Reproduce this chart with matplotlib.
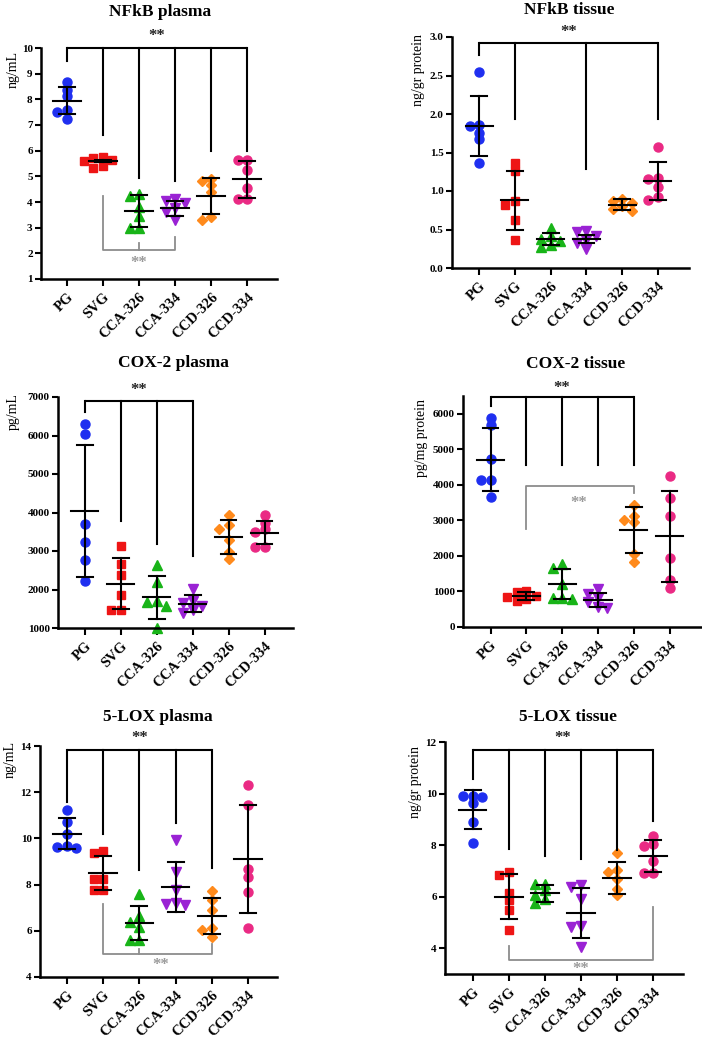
import numpy as np
import matplotlib
matplotlib.use('Agg')
import matplotlib.pyplot as plt

plt.rcParams['font.family'] = ['Liberation Serif', 'DejaVu Serif']

groups = ['PG', 'SVG', 'CCA-326', 'CCA-334', 'CCD-326', 'CCD-334']

# ---------------- data ----------------
nfkb_plasma = [[8.66, 8.38, 8.12, 7.6, 7.5, 7.25],
               [5.75, 5.72, 5.62, 5.58, 5.4, 5.33],
               [4.3, 4.25, 3.8, 3.45, 3.0, 3.0],
               [4.1, 4.05, 3.95, 3.75, 3.6, 3.3],
               [4.9, 4.8, 4.65, 4.4, 3.4, 3.3],
               [5.65, 5.65, 5.25, 4.55, 4.1, 4.1]]
nfkb_plasma_mean = [7.95, 5.6, 3.65, 3.75, 4.23, 4.88]
nfkb_plasma_sd = [0.54, 0.05, 0.63, 0.3, 0.7, 0.72]

nfkb_tissue = [[2.55, 1.86, 1.84, 1.75, 1.67, 1.37],
               [1.36, 1.26, 0.87, 0.82, 0.62, 0.36],
               [0.52, 0.42, 0.38, 0.35, 0.3, 0.27],
               [0.48, 0.47, 0.42, 0.37, 0.33, 0.25],
               [0.9, 0.87, 0.84, 0.8, 0.77, 0.74],
               [1.57, 1.17, 1.15, 1.05, 0.92, 0.88]]
nfkb_tissue_mean = [1.84, 0.88, 0.38, 0.38, 0.82, 1.13]
nfkb_tissue_sd = [0.39, 0.38, 0.08, 0.05, 0.07, 0.25]

cox2_plasma = [[6290, 6050, 3690, 3230, 2760, 2220],
               [3120, 2650, 2370, 1870, 1460, 1460],
               [2630, 2200, 1700, 1680, 1570, 1000],
               [2020, 1700, 1640, 1560, 1480, 1380],
               [3930, 3670, 3580, 3280, 2980, 2780],
               [3930, 3720, 3560, 3500, 3110, 3100]]
cox2_plasma_mean = [4040, 2155, 1800, 1630, 3370, 3480]
cox2_plasma_sd = [1720, 670, 560, 222, 437, 310]

cox2_tissue = [[5870, 5670, 4730, 4150, 4150, 3660],
               [1000, 980, 880, 840, 780, 720],
               [1760, 1660, 1200, 820, 810, 800],
               [1060, 920, 820, 700, 560, 540],
               [3440, 3130, 3000, 2960, 2060, 1820],
               [4240, 3630, 3110, 1930, 1320, 1100]]
cox2_tissue_mean = [4705, 868, 1210, 760, 2735, 2550]
cox2_tissue_sd = [890, 120, 410, 200, 645, 1290]

lox_plasma = [[11.25, 10.72, 10.18, 9.65, 9.62, 9.6],
              [9.45, 9.35, 8.26, 8.26, 7.78, 7.76],
              [7.58, 6.62, 6.4, 6.15, 5.62, 5.6],
              [9.92, 8.55, 7.76, 7.2, 7.15, 7.1],
              [7.73, 7.32, 6.92, 6.1, 6.05, 5.73],
              [12.31, 11.44, 8.67, 8.34, 7.66, 6.14]]
lox_plasma_mean = [10.2, 8.5, 6.34, 7.9, 6.63, 9.09]
lox_plasma_sd = [0.67, 0.72, 0.72, 1.1, 0.78, 2.34]

lox_tissue = [[9.92, 9.9, 9.88, 9.65, 8.9, 8.07],
              [6.96, 6.83, 6.14, 5.88, 5.49, 4.69],
              [6.5, 6.48, 6.25, 6.05, 5.9, 5.75],
              [6.44, 6.38, 5.92, 4.88, 4.82, 4.06],
              [7.68, 7.03, 6.96, 6.7, 6.31, 6.05],
              [8.36, 8.06, 7.95, 7.4, 6.92, 6.9]]
lox_tissue_mean = [9.38, 6.0, 6.14, 5.36, 6.72, 7.57]
lox_tissue_sd = [0.74, 0.86, 0.33, 0.98, 0.63, 0.63]

# significance brackets: (top level, {group index: lower end}, star level)
nfkb_plasma_sig = (10.0, {0: 9.48, 1: 6.62, 2: 4.94, 3: 4.8, 4: 5.97, 5: 5.97}, 10.45)
nfkb_tissue_sig = (2.92, {0: 2.77, 1: 1.93, 3: 1.28, 5: 1.93}, 3.06)
cox2_plasma_sig = (6887, {0: 6610, 1: 3780, 2: 3190, 3: 2860}, 7170)
cox2_tissue_sig = (6471, {0: 6217, 1: 4569, 2: 4569, 3: 4569, 4: 4569}, 6730)
lox_plasma_sig = (13.83, {0: 11.59, 1: 10.18, 2: 8.65, 3: 10.65, 4: 8.7}, 14.35)
lox_tissue_sig = (11.7, {0: 10.56, 1: 7.83, 2: 7.57, 3: 7.48, 4: 7.8, 5: 8.94}, 12.15)

# gray brackets: (level, (left idx, left end), (right idx, right end), mid tick (idx, end) or None, star (x, y))
nfkb_plasma_gray = (2.14, (1, 4.22), (3, 2.64), (2, 2.4), (2.0, 1.62))
cox2_tissue_gray = (3957, (1, 2751), (4, 3768), None, (2.45, 3480))
lox_plasma_gray = (5.01, (1, 7.18), (4, 5.45), (2, 5.22), (2.6, 4.5))
lox_tissue_gray = (3.55, (1, 4.1), (5, 5.6), None, (3.0, 3.2))

# ---------------- style ----------------
colors = ['#1f2ff0', '#ee1515', '#18b418', '#9a22d4', '#ff8a1c', '#ea2a84']
markers = ['o', 's', '^', 'v', 'D', 'o']
msizes = [6.5, 6.3, 7.0, 7.0, 5.6, 6.5]

W, H = 702, 1038
fig = plt.figure(figsize=(W / 100, H / 100), dpi=100)


def swarm_x(vals, xc, xppu, yppu, step=9.5, dmin=6.0):
    placed = []
    xs = []
    for v in vals:
        yp = v * yppu
        best, best_d = 0.0, -1.0
        for k in [0, -1, 1, -2, 2]:
            xp = k * step
            d = min([np.hypot(xp - a, yp - b) for a, b in placed] or [1e9])
            if d >= dmin:
                best = xp
                break
            if d > best_d:
                best, best_d = xp, d
        placed.append((best, yp))
        xs.append(xc + best / xppu)
    return xs


def panel(values, means, sds, title, ylabel, box, ylim, yticks, yfmt, xlim,
          title_px, ylabel_px, sig, gray=None):
    x0, y0, x1, y1 = box
    ax = fig.add_axes([x0 / W, 1 - y1 / H, (x1 - x0) / W, (y1 - y0) / H])
    ax.set_xlim(*xlim)
    ax.set_ylim(*ylim)
    xppu = (x1 - x0) / (xlim[1] - xlim[0])
    yppu = (y1 - y0) / (ylim[1] - ylim[0])
    for i, vals in enumerate(values):
        xs = swarm_x(vals, i, xppu, yppu)
        ax.plot(xs, vals, linestyle='none', marker=markers[i], ms=msizes[i],
                color=colors[i], mec=colors[i], zorder=2, clip_on=False)
        m, s = means[i], sds[i]
        ax.plot([i - 0.38, i + 0.38], [m, m], color='black', lw=1.5, zorder=3)
        ax.plot([i, i], [m - s, m + s], color='black', lw=1.5, zorder=3)
        for yy in (m - s, m + s):
            ax.plot([i - 0.22, i + 0.22], [yy, yy], color='black', lw=1.5, zorder=3)
    # black bracket
    top, drops, sy = sig
    idx = sorted(drops)
    ax.plot([idx[0], idx[-1]], [top, top], color='black', lw=1.5, clip_on=False,
            solid_capstyle='butt', zorder=4)
    for k in idx:
        ax.plot([k, k], [top, drops[k]], color='black', lw=1.5, clip_on=False, zorder=4)
    ax.text((idx[0] + idx[-1]) / 2, sy, '**', ha='center', va='center',
            fontsize=12, fontweight='bold', color='#222222', clip_on=False)
    if gray is not None:
        lev, (li, le), (ri, re), mid, (sx, sy2) = gray
        gc = '#8c8c8c'
        ax.plot([li, li, ri, ri], [le, lev, lev, re], color=gc, lw=1.3, zorder=4)
        if mid is not None:
            ax.plot([mid[0], mid[0]], [lev, mid[1]], color=gc, lw=1.3, zorder=4)
        ax.text(sx, sy2, '**', ha='center', va='center', fontsize=12,
                fontweight='bold', color='#9a9a9a')
    # axes style
    for sp in ('top', 'right'):
        ax.spines[sp].set_visible(False)
    for sp in ('left', 'bottom'):
        ax.spines[sp].set_linewidth(1.8)
    ax.set_yticks(yticks)
    ax.set_yticklabels([yfmt.format(t) for t in yticks], fontsize=8, fontweight='bold')
    ax.set_xticks(range(len(groups)))
    ax.set_xticklabels(groups, rotation=45, ha='right', rotation_mode='anchor',
                       fontsize=10.5, fontweight='bold')
    ax.tick_params(axis='y', direction='out', length=4, width=1.5, pad=2)
    ax.tick_params(axis='x', direction='out', length=5, width=1.5, pad=3)
    fig.text(title_px[0] / W, 1 - title_px[1] / H, title, ha='center', va='center',
             fontsize=12.5, fontweight='bold')
    fig.text(ylabel_px[0] / W, 1 - ylabel_px[1] / H, ylabel, ha='center', va='center',
             rotation=90, fontsize=10)
    return ax


panel(nfkb_plasma, nfkb_plasma_mean, nfkb_plasma_sd, 'NFkB plasma', 'ng/mL',
      (41, 48, 277, 279), (1, 10), list(range(1, 11)), '{:d}', (-0.72, 5.83),
      (160, 12), (13, 70), nfkb_plasma_sig, nfkb_plasma_gray)

panel(nfkb_tissue, nfkb_tissue_mean, nfkb_tissue_sd, 'NFkB tissue', 'ng/gr protein',
      (452, 37, 689, 268), (0, 3.0), [0.0, 0.5, 1.0, 1.5, 2.0, 2.5, 3.0], '{:.1f}',
      (-0.76, 5.87), (569, 10), (419, 70), nfkb_tissue_sig)

panel(cox2_plasma, cox2_plasma_mean, cox2_plasma_sd, 'COX-2 plasma', 'pg/mL',
      (58, 397, 293, 628), (1000, 7000), list(range(1000, 7001, 1000)), '{:d}',
      (-0.74, 5.79), (173, 363), (13, 412), cox2_plasma_sig)

panel(cox2_tissue, cox2_tissue_mean, cox2_tissue_sd, 'COX-2 tissue', 'pg/mg protein',
      (463, 396, 701, 627), (0, 6500), list(range(0, 6001, 1000)), '{:d}',
      (-0.77, 5.88), (576, 364), (421, 438), cox2_tissue_sig, cox2_tissue_gray)

panel(lox_plasma, lox_plasma_mean, lox_plasma_sd, '5-LOX plasma', 'ng/mL',
      (40, 746, 277, 977), (4, 14), list(range(4, 15, 2)), '{:d}',
      (-0.74, 5.8), (158, 717), (10, 760), lox_plasma_sig, lox_plasma_gray)

panel(lox_tissue, lox_tissue_mean, lox_tissue_sd, '5-LOX tissue', 'ng/gr protein',
      (445, 742, 683, 974), (3, 12), list(range(4, 13, 2)), '{:d}',
      (-0.77, 5.83), (568, 717), (416, 782), lox_tissue_sig, lox_tissue_gray)

fig.savefig('out.png', dpi=100)
